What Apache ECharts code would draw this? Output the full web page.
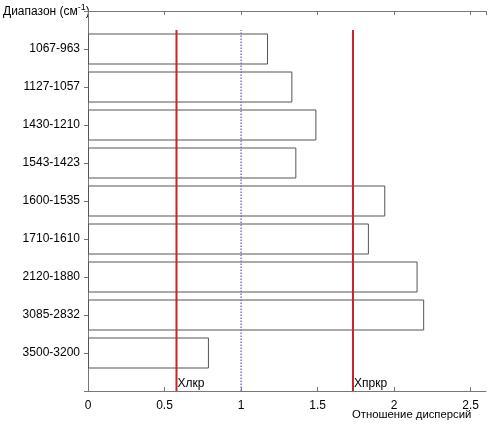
<!DOCTYPE html>
<html>
<head>
<meta charset="utf-8">
<script src="https://cdn.jsdelivr.net/npm/echarts@6/dist/echarts.min.js"></script>
<style>html,body{margin:0;padding:0;background:#fff;}#c{width:495px;height:428px;}</style>
</head>
<body>
<div id="c"></div>
<script>
// Categories listed bottom-to-top
var categories = ['3500-3200', '3085-2832', '2120-1880', '1710-1610', '1600-1535', '1543-1423', '1430-1210', '1127-1057', '1067-963'];
var ratios = [0.79, 2.196, 2.153, 1.835, 1.942, 1.361, 1.492, 1.335, 1.176];
var xTicks = [0, 0.5, 1, 1.5, 2, 2.5];
var lowCrit = 0.578;
var highCrit = 1.731;
var unitRatio = 1;
var lowLabel = 'Хлкр';
var highLabel = 'Хпркр';
var yTitle = 'Диапазон (см';
var xTitle = 'Отношение дисперсий';
var lineTop = 9.5;

var cats = [''].concat(categories).concat(['']);
var barData = [null].concat(ratios).concat([null]);

var chart = echarts.init(document.getElementById('c'), null, {renderer: 'canvas'});
var font = 'Liberation Sans, Arial, sans-serif';
var axisColor = '#777';

function vline(x, color, type, label) {
  return {
    type: 'line', xAxisIndex: 0, yAxisIndex: 2,
    data: [[x, 0], [x, lineTop]],
    showSymbol: false, symbol: 'none', silent: true, z: 5,
    lineStyle: {color: color, width: type === 'solid' ? 2 : 1.5, type: type},
    label: {show: false},
    markPoint: label ? {
      symbol: 'circle', symbolSize: 0,
      data: [{coord: [x, 0]}],
      label: {show: true, formatter: label, position: 'right', distance: 0, offset: [1, -7], color: '#000', fontFamily: font, fontSize: 12}
    } : undefined
  };
}

chart.setOption({
  backgroundColor: '#fff',
  animation: false,
  textStyle: {fontFamily: font},
  grid: {left: 88, right: 9, top: 11, bottom: 37, containLabel: false},
  xAxis: [
    {type: 'value', position: 'bottom', min: 0, max: 2.6, interval: 0.5,
     axisLine: {show: true, lineStyle: {color: axisColor}},
     axisTick: {show: true, inside: true, length: 4, lineStyle: {color: axisColor}},
     axisLabel: {show: true, color: '#000', fontSize: 12, fontFamily: font, margin: 9,
       formatter: function (v) { return xTicks.indexOf(Math.round(v * 10) / 10) >= 0 ? String(Math.round(v * 10) / 10) : ''; },
       showMaxLabel: false},
     splitLine: {show: false}},
    {type: 'value', position: 'top', min: 0, max: 2.6, interval: 0.5,
     axisLine: {show: true, lineStyle: {color: axisColor}},
     axisTick: {show: true, inside: true, length: 4, lineStyle: {color: axisColor}},
     axisLabel: {show: false}, splitLine: {show: false}}
  ],
  yAxis: [
    {type: 'category', position: 'left', data: cats, boundaryGap: false,
     axisLine: {show: true, lineStyle: {color: axisColor}},
     axisTick: {show: false},
     axisLabel: {show: true, color: '#000', fontSize: 12, fontFamily: font, margin: 8, interval: 0},
     splitLine: {show: false}},
    {type: 'category', position: 'right', data: cats, boundaryGap: false,
     axisLine: {show: true, lineStyle: {color: axisColor}},
     axisTick: {show: true, inside: true, length: 4, interval: 0, lineStyle: {color: axisColor}},
     axisLabel: {show: false}, splitLine: {show: false}},
    {type: 'value', min: 0, max: 10, show: false}
  ],
  graphic: [
    {type: 'text', left: 3, top: 3, style: {
      text: yTitle + '{sup|-1})', fill: '#000', font: '12px ' + font,
      rich: {sup: {fontSize: 9, verticalAlign: 'top', padding: [0, 0, 8, 0], fill: '#000', fontFamily: font}}
    }},
    {type: 'text', left: 352, top: 409, style: {text: xTitle, fill: '#000', font: '11.3px ' + font}}
  ],
  series: [
    {type: 'bar', xAxisIndex: 0, yAxisIndex: 0, data: barData, barWidth: 31, z: 2,
     itemStyle: {color: 'rgba(255,255,255,0)', borderColor: '#555', borderWidth: 1}},
    vline(unitRatio, '#7a7ab8', 'dotted', null),
    vline(lowCrit, '#c8232c', 'solid', lowLabel),
    vline(highCrit, '#c8232c', 'solid', highLabel)
  ]
});
</script>
</body>
</html>
